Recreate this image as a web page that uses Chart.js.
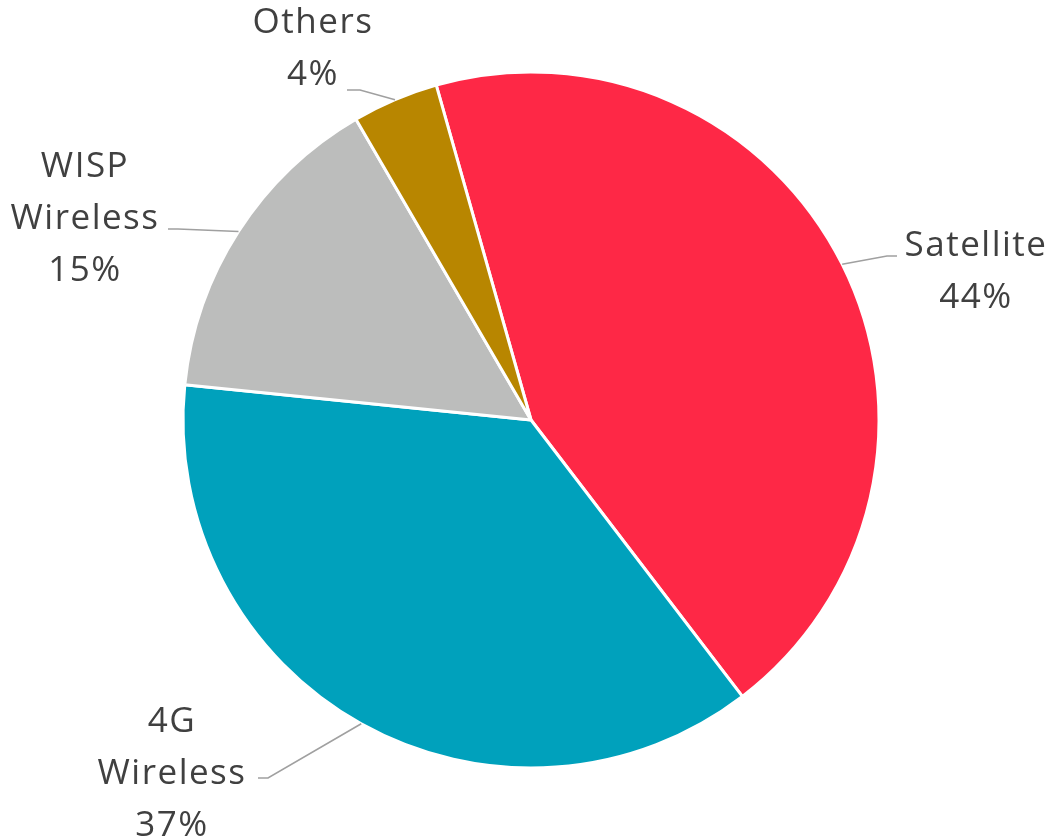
<!DOCTYPE html>
<html>
<head>
<meta charset="utf-8">
<script src="https://cdn.jsdelivr.net/npm/chart.js@4"></script>
<style>
  html, body { margin: 0; padding: 0; background: #fff; }
  #wrap { width: 1051px; height: 839px; }
</style>
</head>
<body>
<div id="wrap"><canvas id="pie"></canvas></div>
<script>
// data
const categories = [['Satellite'], ['4G', 'Wireless'], ['WISP', 'Wireless'], ['Others']];
const shares = [44, 37, 15, 4];
const colors = ['#FE2846', '#00A1BC', '#BCBDBC', '#B88600'];

// where each label text sits and where its leader line stops (canvas px)
const labelSpots = [
  { x: 976, y: 256, lineEnd: [897, 256], elbow: [887, 256] },
  { x: 172, y: 732, lineEnd: [258, 778], elbow: [268, 778] },
  { x: 85, y: 177, lineEnd: [168, 229], elbow: [178, 229] },
  { x: 313, y: 33, lineEnd: [347, 90], elbow: [360, 90] }
];

const outsideLabels = {
  id: 'outsideLabels',
  afterDraw(chart) {
    const ctx = chart.ctx;
    const arcs = chart.getDatasetMeta(0).data;
    ctx.save();
    arcs.forEach((arc, i) => {
      const { x, y, startAngle, endAngle, outerRadius } = arc.getProps(['x', 'y', 'startAngle', 'endAngle', 'outerRadius'], true);
      const mid = (startAngle + endAngle) / 2;
      const px = x + Math.cos(mid) * outerRadius;
      const py = y + Math.sin(mid) * outerRadius;
      const spot = labelSpots[i];

      // leader line
      ctx.strokeStyle = '#A0A0A0';
      ctx.lineWidth = 1.6;
      ctx.beginPath();
      ctx.moveTo(px, py);
      ctx.lineTo(spot.elbow[0], spot.elbow[1]);
      ctx.lineTo(spot.lineEnd[0], spot.lineEnd[1]);
      ctx.stroke();

      // text
      const lines = [...categories[i], shares[i] + '%'];
      ctx.fillStyle = '#404040';
      ctx.font = '35px "Open Sans", sans-serif';
      ctx.letterSpacing = '1.5px';
      ctx.textAlign = 'center';
      ctx.textBaseline = 'alphabetic';
      lines.forEach((t, k) => ctx.fillText(t, spot.x, spot.y + k * 52));
    });
    ctx.restore();
  }
};

new Chart(document.getElementById('pie'), {
  type: 'pie',
  data: {
    labels: categories.map(c => c.join(' ')),
    datasets: [{
      data: shares,
      backgroundColor: colors,
      borderColor: '#ffffff',
      borderWidth: 3
    }]
  },
  options: {
    responsive: true,
    maintainAspectRatio: false,
    animation: false,
    rotation: -15.8,
    radius: 348,
    layout: { padding: { left: 11, top: 1 } },
    plugins: {
      legend: { display: false },
      tooltip: { enabled: false }
    }
  },
  plugins: [outsideLabels]
});
</script>
</body>
</html>
